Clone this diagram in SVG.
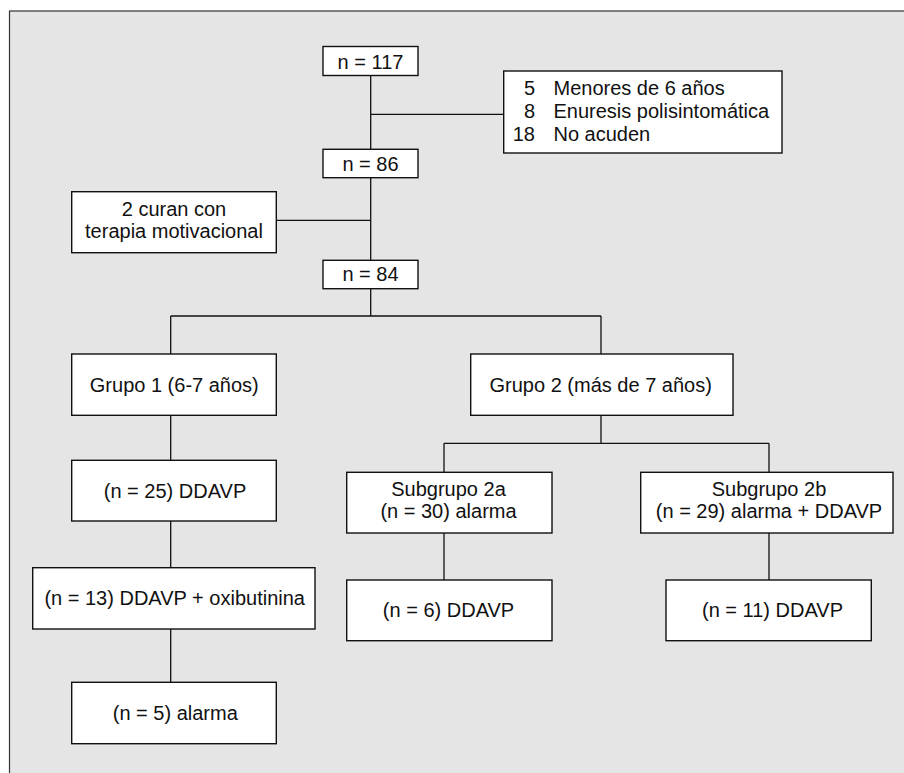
<svg xmlns="http://www.w3.org/2000/svg" width="904" height="773" viewBox="0 0 904 773">
<style>
.bg{fill:#e5e5e5;stroke:#333;stroke-width:1.2}
.box{fill:#fff;stroke:#111;stroke-width:1.4}
.ln{fill:none;stroke:#111;stroke-width:1.3}
text{font-family:"Liberation Sans",Arial,sans-serif;font-size:20px;fill:#111}
.c{text-anchor:middle}
.r{text-anchor:end}
</style>
<rect width="904" height="773" fill="#fff"/>
<rect class="bg" x="9.5" y="11" width="900" height="770"/>
<g id="connectors">
<path class="ln" d="M370.7 75.3V260.3M370.7 114.3H503.7M276.3 220.3H370.7M370.7 288.7V316M170.7 316H601M170.7 316V354M601 316V354"/>
<path class="ln" d="M170.7 415.3V460.3M170.7 521V567.7M170.7 629V682.3"/>
<path class="ln" d="M601 415.3V443.3M444 443.3H769M444 443.3V472.3M769 443.3V472.3M444 533V580M769 533V580"/>
</g>
<g id="n117"><rect class="box" x="323" y="46.5" width="95" height="29"/><text class="c" x="370.5" y="69">n = 117</text></g>
<g id="excluidos"><rect class="box" x="503.7" y="71" width="278.3" height="82"/>
<text class="r" x="535" y="95">5</text><text x="553.5" y="95">Menores de 6 años</text>
<text class="r" x="535" y="118">8</text><text x="553.5" y="118">Enuresis polisintomática</text>
<text class="r" x="535" y="141">18</text><text x="553.5" y="141">No acuden</text></g>
<g id="n86"><rect class="box" x="323" y="149.3" width="95" height="28.4"/><text class="c" x="370.5" y="170.7">n = 86</text></g>
<g id="curan"><rect class="box" x="71.7" y="191.7" width="204.6" height="61"/><text class="c" x="174" y="216">2 curan con</text><text class="c" x="174" y="238">terapia motivacional</text></g>
<g id="n84"><rect class="box" x="323" y="260.3" width="95" height="28.4"/><text class="c" x="370.5" y="281">n = 84</text></g>
<g id="grupo1"><rect class="box" x="71.7" y="354" width="204.6" height="61.3"/><text class="c" x="174.3" y="392.3">Grupo 1 (6-7 años)</text></g>
<g id="grupo2"><rect class="box" x="470.7" y="354" width="262.3" height="61.3"/><text class="c" x="600.7" y="392.3">Grupo 2 (más de 7 años)</text></g>
<g id="g1ddavp"><rect class="box" x="71.7" y="460.3" width="204.6" height="60.7"/><text class="c" x="175" y="498.3">(n = 25) DDAVP</text></g>
<g id="g1oxi"><rect class="box" x="32.7" y="567.7" width="282.3" height="61.3"/><text class="c" x="174.7" y="605">(n = 13) DDAVP + oxibutinina</text></g>
<g id="g1alarma"><rect class="box" x="71.7" y="682.3" width="204.6" height="61.4"/><text class="c" x="175.3" y="720">(n = 5) alarma</text></g>
<g id="sub2a"><rect class="box" x="346.7" y="472.3" width="205.3" height="60.7"/><text class="c" x="448.5" y="496">Subgrupo 2a</text><text class="c" x="448.5" y="518.3">(n = 30) alarma</text></g>
<g id="sub2b"><rect class="box" x="640.7" y="472.3" width="252.3" height="60.7"/><text class="c" x="769" y="496">Subgrupo 2b</text><text class="c" x="769" y="518.3">(n = 29) alarma + DDAVP</text></g>
<g id="s2addavp"><rect class="box" x="346.7" y="580" width="205.3" height="60.7"/><text class="c" x="448.5" y="616.7">(n = 6) DDAVP</text></g>
<g id="s2bddavp"><rect class="box" x="666" y="580" width="205.3" height="60.7"/><text class="c" x="772.5" y="616.7">(n = 11) DDAVP</text></g>
</svg>
